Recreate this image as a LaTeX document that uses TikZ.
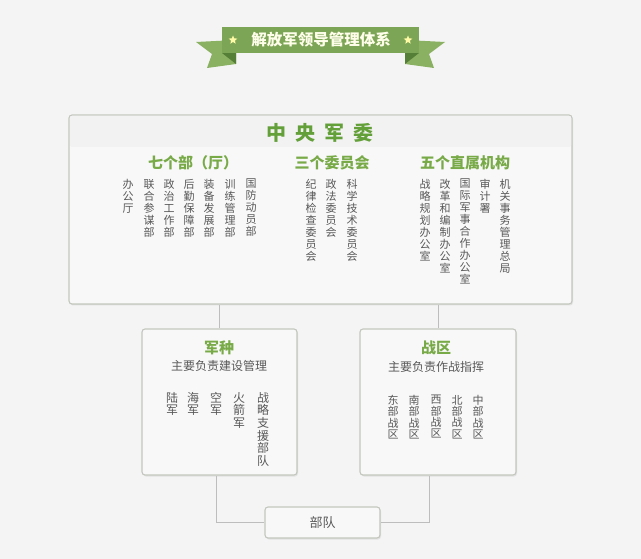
\documentclass[tikz,border=0pt]{standalone}
\usepackage{fontspec}
\newfontfamily\cjk{Noto Sans CJK SC}
\usetikzlibrary{shadows,shapes.geometric}
\definecolor{bg}{HTML}{F4F4F4}
\definecolor{boxfill}{HTML}{F8F8F8}
\definecolor{boxline}{HTML}{C3C6BD}
\definecolor{txt}{HTML}{585858}
\definecolor{hgreen}{HTML}{64A03A}
\definecolor{sgreen}{HTML}{78AA48}
\definecolor{band}{HTML}{7DA556}
\definecolor{tail}{HTML}{8AB062}
\definecolor{fold}{HTML}{557F36}
\definecolor{conn}{HTML}{BDBDBD}
\tikzset{
  box/.style={draw=boxline, line width=1.1pt, fill=boxfill, rounded corners=3pt,
    drop shadow={shadow xshift=1pt, shadow yshift=-1.5pt, fill=black!18}, inner sep=0},
  col/.style={anchor=north, align=center, inner sep=0, text=txt,
    font=\cjk\fontsize{11}{12}\selectfont},
  colb/.style={col, font=\cjk\fontsize{12}{12.6}\selectfont},
  colc/.style={col, font=\cjk\fontsize{11}{11.3}\selectfont},
  subhead/.style={inner sep=0, text=sgreen, font=\cjk\bfseries\fontsize{15}{15}\selectfont},
  note/.style={inner sep=0, text=txt, font=\cjk\fontsize{12}{12}\selectfont},
  link/.style={draw=conn, line width=1pt}
}
\begin{document}
\begin{tikzpicture}[x=1pt,y=-1pt]
\useasboundingbox (0,0) rectangle (641,559);
\fill[bg] (0,0) rectangle (641,559);

% banner
\fill[tail] (196,42) -- (236,40) -- (236,64) -- (207,68) -- (212,54) -- cycle;
\fill[fold] (222,53) -- (236,53) -- (236,64) -- cycle;
\fill[tail] (445,42) -- (405,40) -- (405,64) -- (434,68) -- (429,54) -- cycle;
\fill[fold] (419,53) -- (405,53) -- (405,64) -- cycle;
\node[fill=band, minimum width=197pt, minimum height=26pt, inner sep=0] (banner) at (320.5,40) {};
\node[text=white!92!yellow, inner sep=0, font=\cjk\bfseries\fontsize{15.5}{15.5}\selectfont] (btitle) at (321,40) {解放军领导管理体系};
\node[star, star points=5, star point ratio=2.2, fill=yellow!35!white, minimum size=9pt, inner sep=0] (s1) at (233,40) {};
\node[star, star points=5, star point ratio=2.2, fill=yellow!35!white, minimum size=9pt, inner sep=0] (s2) at (408,40) {};

% boxes
\node[box, minimum width=503pt, minimum height=189pt] (main) at (320.5,209.5) {};
\fill[black!5, rounded corners=2pt] (70,116) rectangle (571,147);
\node[box, minimum width=155pt, minimum height=146pt] (lb) at (219.5,402) {};
\node[box, minimum width=156pt, minimum height=146pt] (rb) at (438,402) {};
\node[box, minimum width=115pt, minimum height=31pt] (bd) at (322.5,522.5) {};

% connectors
\draw[link] (lb.north) -- (lb.north |- main.south);
\draw[link] (rb.north) -- (rb.north |- main.south);
\draw[link] ([xshift=-3.5pt]lb.south) |- (bd.west);
\draw[link] ([xshift=-9pt]rb.south) |- (bd.east);

% main texts
\node[inner sep=0, text=hgreen, font=\cjk\bfseries\fontsize{20}{20}\selectfont] (zy) at (320,133) {中\hspace{9pt}央\hspace{9pt}军\hspace{9pt}委};
\node[subhead] (h1) at (193,163) {七个部（厅）};
\node[subhead] (h2) at (332,163) {三个委员会};
\node[subhead] (h3) at (465,163) {五个直属机构};

\node[col] (a1) at (128,179) {办\\公\\厅};
\node[col] (a2) at (149,179) {联\\合\\参\\谋\\部};
\node[col] (a3) at (169,179) {政\\治\\工\\作\\部};
\node[col] (a4) at (189,179) {后\\勤\\保\\障\\部};
\node[col] (a5) at (209,179) {装\\备\\发\\展\\部};
\node[col] (a6) at (230,179) {训\\练\\管\\理\\部};
\node[col] (a7) at (251,179) {国\\防\\动\\员\\部};

\node[col] (b1) at (311,179) {纪\\律\\检\\查\\委\\员\\会};
\node[col] (b2) at (331,179) {政\\法\\委\\员\\会};
\node[col] (b3) at (352,179) {科\\学\\技\\术\\委\\员\\会};

\node[col] (c1) at (425,179) {战\\略\\规\\划\\办\\公\\室};
\node[col] (c2) at (445,179) {改\\革\\和\\编\\制\\办\\公\\室};
\node[col] (c3) at (465,179) {国\\际\\军\\事\\合\\作\\办\\公\\室};
\node[col] (c4) at (485,179) {审\\计\\署};
\node[col] (c5) at (505,179) {机\\关\\事\\务\\管\\理\\总\\局};

% left box
\node[subhead] (jz) at (219,348) {军种};
\node[note] (jzn) at (219,366) {主要负责建设管理};
\node[colb] (d1) at (172,392) {陆\\军};
\node[colb] (d2) at (193,392) {海\\军};
\node[colb] (d3) at (216,392) {空\\军};
\node[colb] (d4) at (239,392) {火\\箭\\军};
\node[colb] (d5) at (263,392) {战\\略\\支\\援\\部\\队};

% right box
\node[subhead] (zq) at (436,348) {战区};
\node[note] (zqn) at (436,367) {主要负责作战指挥};
\node[colc] (e1) at (393,395) {东\\部\\战\\区};
\node[colc] (e2) at (414,395) {南\\部\\战\\区};
\node[colc] (e3) at (436,395) {西\\部\\战\\区};
\node[colc] (e4) at (457,395) {北\\部\\战\\区};
\node[colc] (e5) at (478,395) {中\\部\\战\\区};

% bottom
\node[inner sep=0, text=txt, font=\cjk\fontsize{13}{13}\selectfont] (bdt) at (322.5,522.5) {部队};
\end{tikzpicture}
\end{document}
